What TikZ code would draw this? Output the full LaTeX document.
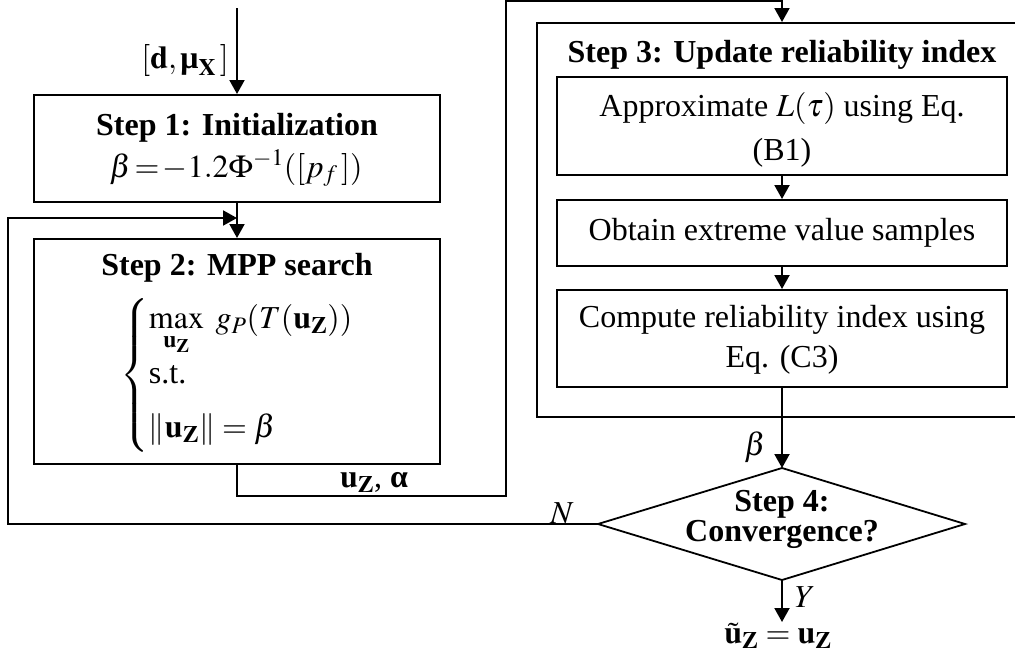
\documentclass[tikz,border=0pt]{standalone}
\usepackage{amsmath}
\usepackage{mathptmx}
\usepackage{fontspec}
\setmainfont{Liberation Serif}
\usetikzlibrary{arrows.meta}
\begin{document}
\begin{tikzpicture}[x=1pt,y=-1pt,
  box/.style={draw, line width=2pt, inner sep=0pt},
  conn/.style={line width=2pt},
  arr/.style={conn, -{Triangle[length=14pt,width=15pt]}},
  txt/.style={inner sep=0pt, align=center, font=\fontsize{32}{40}\selectfont},
  bold/.style={inner sep=0pt, align=center, font=\fontsize{32}{40}\selectfont\bfseries}]
\useasboundingbox (0,0) rectangle (1015,656);

% boxes
\node[box, minimum width=406pt, minimum height=107pt] (b1) at (237,148.5) {};
\node[box, minimum width=406pt, minimum height=225pt] (b2) at (237,351.5) {};
\node[box, minimum width=490pt, minimum height=394pt] (b3) at (782,220) {};
\node[box, minimum width=450pt, minimum height=98pt] (sa) at (782,126) {};
\node[box, minimum width=450pt, minimum height=66pt] (sb) at (782,233) {};
\node[box, minimum width=450pt, minimum height=97pt] (sc) at (782,338.5) {};

% diamond
\coordinate (dt) at (782,468);
\coordinate (dr) at (965,524);
\coordinate (db) at (782,580);
\coordinate (dl) at (598,524);
\draw[line width=1.8pt] (dt) -- (dr) -- (db) -- (dl) -- cycle;

% texts
\node[bold, anchor=base] (t1) at (237,135) {Step 1: Initialization};
\node[txt, anchor=base] (f1) at (236,177) {\thickmuskip=2mu$\beta=-1.2\Phi^{-1}([p_f\,])$};
\node[bold] (t2) at (237,268) {Step 2: MPP search};
\node[txt] (f2) at (237,375) {$\left\{\begin{array}{@{}l@{}}
  \max\limits_{\mathbf{u}_{\mathbf{Z}}}\ g_P(T(\mathbf{u}_{\mathbf{Z}}))\\[10pt]
  \text{s.t.}\\[14pt]
  \left\|\mathbf{u}_{\mathbf{Z}}\right\|=\beta
  \end{array}\right.$};
\node[bold] (t3) at (782,55) {Step 3: Update reliability index};
\node[txt, font=\fontsize{32}{44}\selectfont] (ta) at (782,130) {Approximate $L(\tau)$ using Eq.\\(B1)};
\node[txt] (tb) at (782,233) {Obtain extreme value samples};
\node[txt] (tc) at (782,340) {Compute reliability index using\\Eq. (C3)};
\node[bold, font=\fontsize{32}{30}\selectfont\bfseries] (t4) at (782,519) {Step 4:\\Convergence?};

\node[txt] (lin) at (185,60) {$[\mathbf{d},\text{\textbf{μ}}_{\mathbf{X}}\,]$};
\node[txt] (luz) at (374,482) {$\mathbf{u}_{\mathbf{Z}}$, \textbf{α}};
\node[txt] (lb) at (755,447) {$\beta$};
\node[txt] (lN) at (562,513) {$N$};
\node[txt] (lY) at (805,597) {$Y$};
\node[txt] (res) at (778,636) {$\tilde{\mathbf{u}}_{\mathbf{Z}}=\mathbf{u}_{\mathbf{Z}}$};

% connectors
\coordinate (in) at (237,8);
\coordinate (c1) at (506,496);
\coordinate (c2) at (782,1);
\coordinate (c3) at (8,218);
\coordinate (j) at (237,218);
\coordinate (out) at (782,622);
\draw[arr] (in) -- (b1.north);
\draw[arr] (b1.south) -- (b2.north);
\draw[arr] (b2.south) |- (c1) |- (c2) -- (b3.north);
\draw[arr] (sa.south) -- (sb.north);
\draw[arr] (sb.south) -- (sc.north);
\draw[arr] (sc.south) -- (dt);
\draw[arr] (dl) -| (c3) -- (j);
\draw[arr] (db) -- (out);
\end{tikzpicture}
\end{document}
